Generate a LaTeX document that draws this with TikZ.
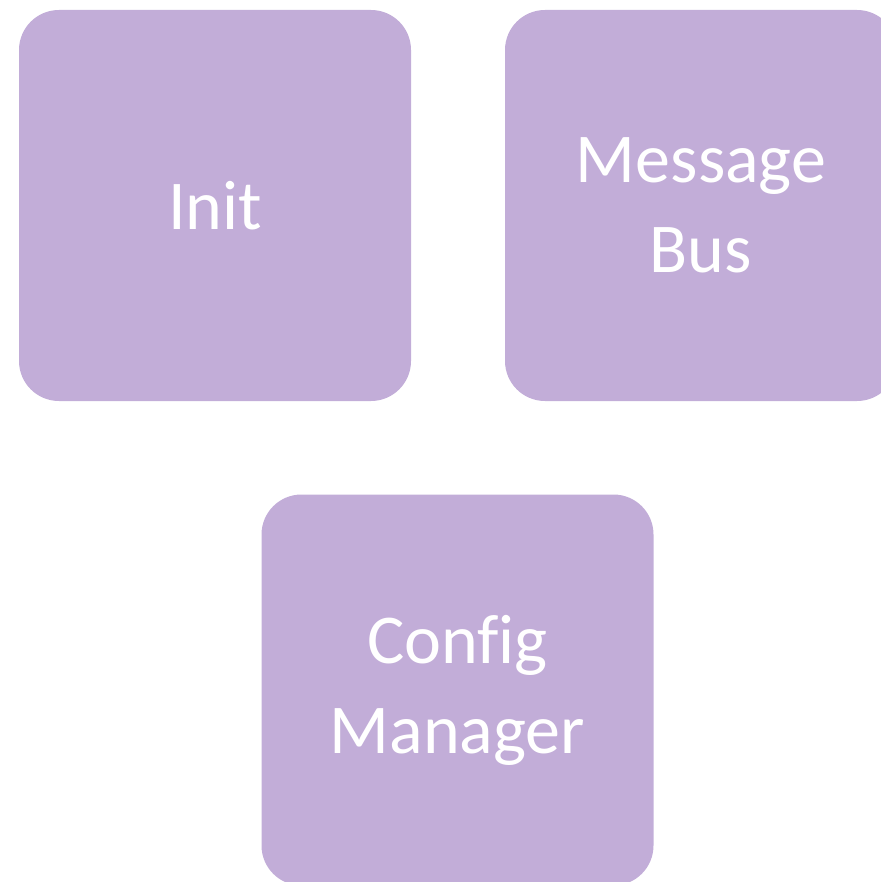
\documentclass[tikz,border=0pt]{standalone}
\usepackage{fontspec}
\setmainfont[Ligatures=NoCommon]{Carlito}
\definecolor{boxfill}{HTML}{C2ADD8}
\begin{document}
\begin{tikzpicture}[x=1pt,y=-1pt,
  block/.style={fill=boxfill, draw=none, rounded corners=40pt,
    minimum width=392pt, minimum height=391pt, inner sep=0pt,
    text=white, align=center,
    font=\fontsize{70}{90}\selectfont}]
  \useasboundingbox (0,0) rectangle (880,882);
  \node[block] (init) at (215,205.5) {Init};
  \node[block] (bus) at (701,205.5) {Message\\Bus};
  \node[block] (cfg) at (457.5,690) {Config\\Manager};
\end{tikzpicture}
\end{document}
